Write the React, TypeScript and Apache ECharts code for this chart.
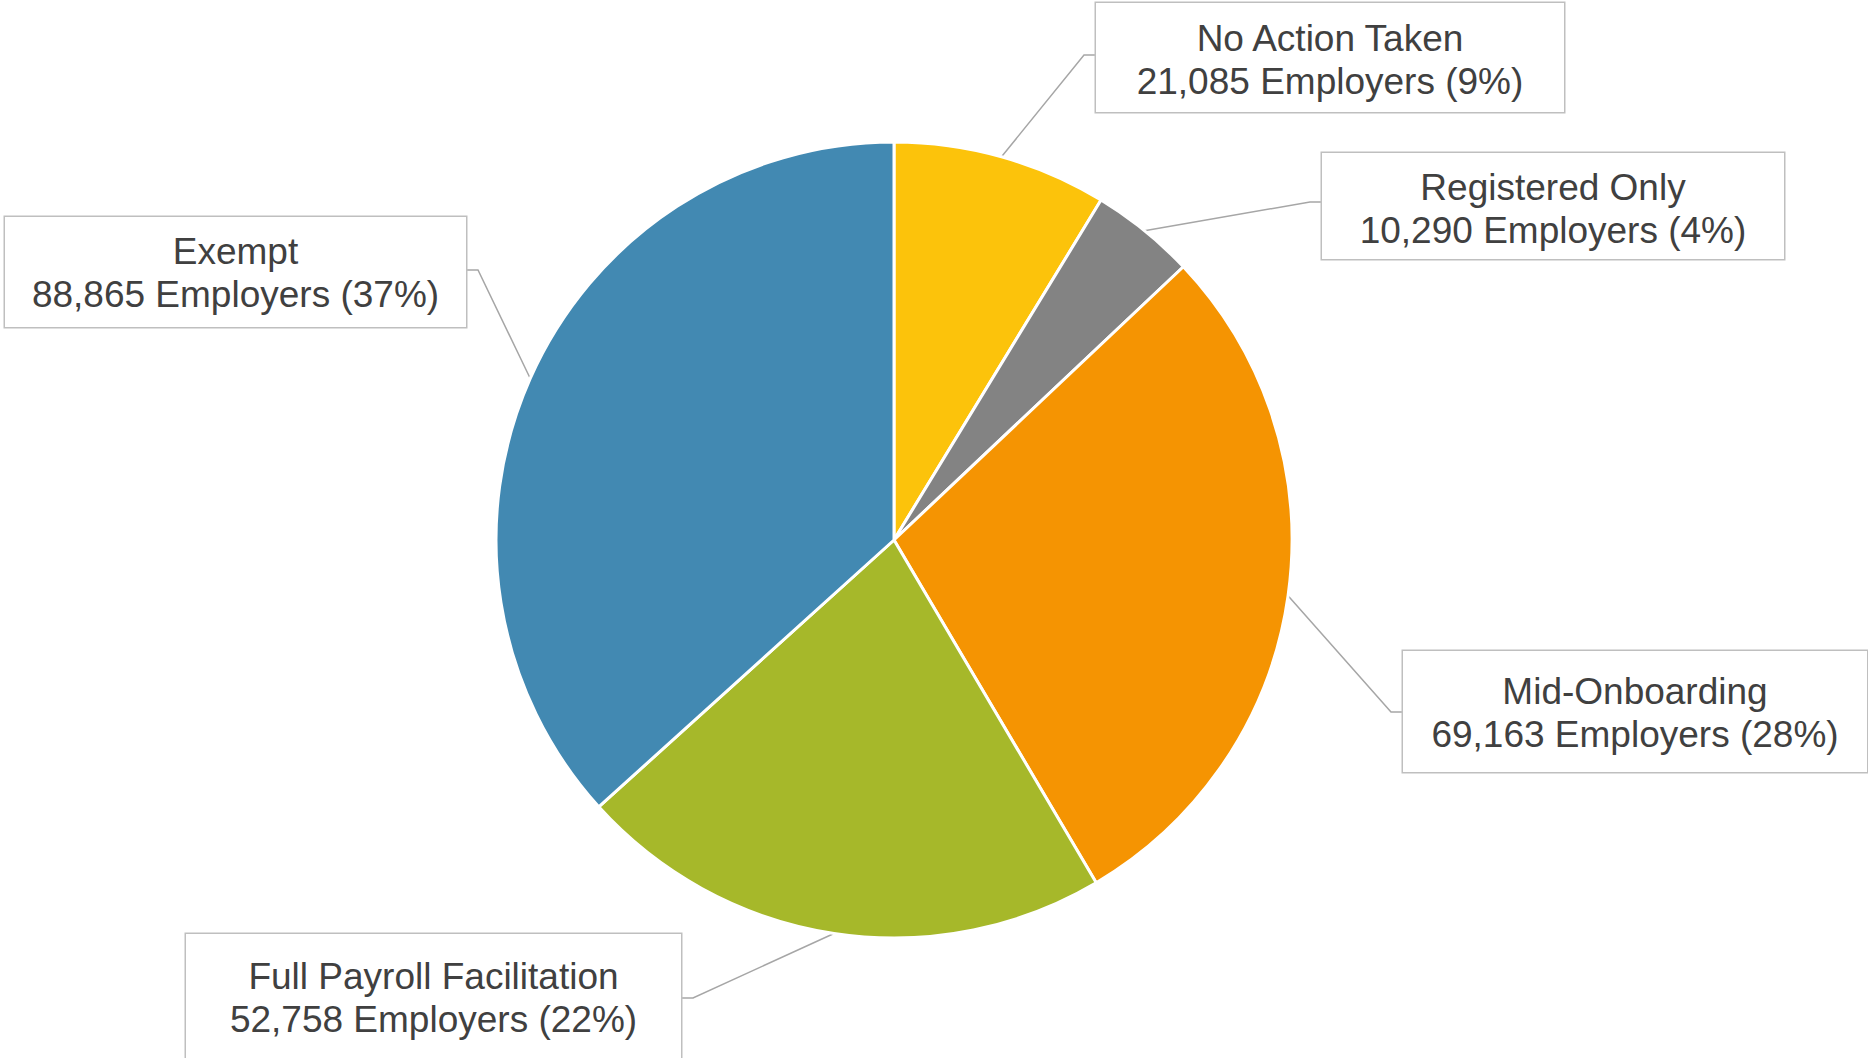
import React, { useEffect, useRef } from "react";
import * as echarts from "echarts";

// ---- data ----
const categories = [
  "No Action Taken",
  "Registered Only",
  "Mid-Onboarding",
  "Full Payroll Facilitation",
  "Exempt",
];
const employerCounts = [21085, 10290, 69163, 52758, 88865];
const percentLabels = ["9%", "4%", "28%", "22%", "37%"];

// ---- styles / layout ----
const sliceColors = ["#FCC30B", "#838383", "#F59402", "#A6B82A", "#4289B2"];
const PIE_CENTER = [894, 540];
const PIE_RADIUS = 398;
const LINE_HEIGHT = 43;

const labelBoxes = [
  { left: 1096, top: 3, width: 468, height: 109, firstLine: 35, linkY: 55, side: "left" },
  { left: 1322, top: 153, width: 462, height: 106, firstLine: 34, linkY: 202, side: "left" },
  { left: 1403, top: 651, width: 464, height: 121, firstLine: 40, linkY: 712, side: "left" },
  { left: 186, top: 934, width: 495, height: 126, firstLine: 42, linkY: 998, side: "right" },
  { left: 5, top: 217, width: 461, height: 110, firstLine: 34, linkY: 270, side: "right" },
];

function fallbackAnchor(idx: number): number[] {
  const total = employerCounts.reduce((a, b) => a + b, 0);
  let before = 0;
  for (let i = 0; i < idx; i++) before += employerCounts[i];
  const mid = ((before + employerCounts[idx] / 2) / total) * Math.PI * 2;
  return [
    PIE_CENTER[0] + PIE_RADIUS * Math.sin(mid),
    PIE_CENTER[1] - PIE_RADIUS * Math.cos(mid),
  ];
}

export default function App() {
  const ref = useRef<HTMLDivElement>(null);

  useEffect(() => {
    if (!ref.current) return;
    const chart = echarts.init(ref.current, null, { renderer: "svg" });

    const data = categories.map((name, i) => {
      const b = labelBoxes[i];
      const padTop = b.firstLine - LINE_HEIGHT / 2;
      const padBottom = b.height - padTop - LINE_HEIGHT * 2;
      return {
        name,
        value: employerCounts[i],
        itemStyle: { color: sliceColors[i] },
        label: {
          width: b.width,
          padding: [padTop, 0, padBottom, 0],
        },
      };
    });

    chart.setOption({
      animation: false,
      backgroundColor: "#ffffff",
      series: [
        {
          type: "pie",
          center: PIE_CENTER,
          radius: PIE_RADIUS,
          startAngle: 90,
          clockwise: true,
          avoidLabelOverlap: false,
          emphasis: { disabled: true },
          itemStyle: { borderColor: "#ffffff", borderWidth: 3 },
          label: {
            show: true,
            position: "outside",
            formatter: (p: any) =>
              `${p.name}\n${Number(p.value).toLocaleString("en-US")} Employers (${percentLabels[p.dataIndex]})`,
            fontFamily: "'Liberation Sans', Arial, sans-serif",
            fontSize: 37,
            lineHeight: LINE_HEIGHT,
            color: "#404040",
            align: "center",
            backgroundColor: "#ffffff",
            borderColor: "#BFBFBF",
            borderWidth: 1.5,
          },
          labelLine: {
            show: true,
            smooth: false,
            lineStyle: { color: "#A6A6A6", width: 1.5 },
          },
          labelLayout: (params: any) => {
            const idx = params.dataIndex;
            const b = labelBoxes[idx];
            const start =
              params.labelLinePoints && params.labelLinePoints[0]
                ? params.labelLinePoints[0]
                : fallbackAnchor(idx);
            const edgeX = b.side === "left" ? b.left : b.left + b.width;
            const bendX = b.side === "left" ? edgeX - 12 : edgeX + 12;
            return {
              x: b.left + b.width / 2,
              y: b.top,
              align: "center",
              verticalAlign: "top",
              labelLinePoints: [start, [bendX, b.linkY], [edgeX, b.linkY]],
            };
          },
          data,
        },
      ],
    });

    return () => chart.dispose();
  }, []);

  return (
    <div
      ref={ref}
      style={{ position: "fixed", left: 0, top: 0, width: 1868, height: 1058 }}
    />
  );
}
